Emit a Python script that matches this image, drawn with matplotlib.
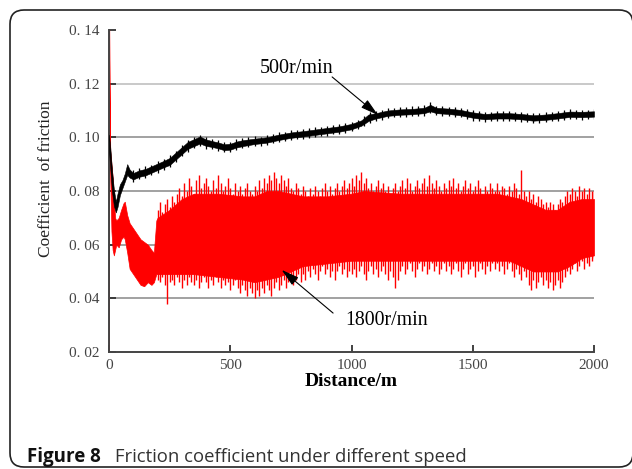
import matplotlib
matplotlib.use('Agg')
import matplotlib.pyplot as plt
from matplotlib.patches import FancyBboxPatch

# 1800r/min 曲线主体的上下包络 (距离 m, 摩擦系数)
dist_1800 = [0, 1, 5, 10, 15, 20, 25, 30, 40, 50, 60, 65, 75, 85, 100, 115, 130, 145,
             160, 175, 185, 195, 200, 250, 300, 350, 450, 550, 600, 650, 700, 800, 900,
             1000, 1050, 1200, 1600, 1650, 1700, 1750, 1800, 1850, 1900, 1950, 2000]
hi_1800 = [0.140, 0.140, 0.095, 0.090, 0.085, 0.078, 0.070, 0.069, 0.070, 0.073, 0.0755,
           0.076, 0.071, 0.068, 0.066, 0.064, 0.062, 0.061, 0.060, 0.058, 0.057, 0.069,
           0.070, 0.073, 0.077, 0.079, 0.079, 0.078, 0.078, 0.080, 0.080, 0.078, 0.078,
           0.079, 0.080, 0.079, 0.079, 0.078, 0.077, 0.075, 0.073, 0.073, 0.076, 0.077,
           0.077]
lo_1800 = [0.020, 0.120, 0.085, 0.065, 0.058, 0.056, 0.058, 0.060, 0.059, 0.062, 0.063,
           0.062, 0.057, 0.051, 0.049, 0.047, 0.045, 0.0445, 0.046, 0.045, 0.046, 0.049,
           0.049, 0.049, 0.049, 0.049, 0.048, 0.047, 0.046, 0.047, 0.048, 0.052, 0.053,
           0.054, 0.054, 0.054, 0.054, 0.054, 0.052, 0.050, 0.050, 0.050, 0.052, 0.055,
           0.056]

# 1800r/min 曲线的尖峰 (每 10 m 的最大值和最小值)
spike_x = list(range(200, 2001, 10))
spike_hi = [
    0.073, 0.076, 0.072, 0.075, 0.077, 0.074, 0.078, 0.076, 0.079, 0.081,
    0.078, 0.083, 0.080, 0.085, 0.082, 0.079, 0.084, 0.086, 0.081, 0.083,
    0.085, 0.082, 0.080, 0.084, 0.081, 0.086, 0.083, 0.080, 0.082, 0.085,
    0.081, 0.079, 0.083, 0.080, 0.082, 0.079, 0.081, 0.083, 0.080, 0.079,
    0.082, 0.080, 0.084, 0.081, 0.085, 0.083, 0.086, 0.084, 0.087, 0.085,
    0.083, 0.086, 0.084, 0.082, 0.085, 0.081, 0.080, 0.083, 0.081, 0.079,
    0.082, 0.080, 0.078, 0.081, 0.079, 0.082, 0.080, 0.078, 0.081, 0.083,
    0.080, 0.082, 0.079, 0.081, 0.083, 0.080, 0.082, 0.084, 0.081, 0.083,
    0.085, 0.082, 0.086, 0.084, 0.087, 0.083, 0.085, 0.081, 0.083, 0.080,
    0.082, 0.084, 0.081, 0.083, 0.080, 0.082, 0.079, 0.081, 0.083, 0.080,
    0.082, 0.084, 0.081, 0.085, 0.083, 0.080, 0.082, 0.084, 0.081, 0.083,
    0.085, 0.082, 0.086, 0.083, 0.081, 0.084, 0.082, 0.080, 0.083, 0.081,
    0.084, 0.082, 0.085, 0.081, 0.083, 0.080, 0.082, 0.084, 0.081, 0.083,
    0.080, 0.082, 0.084, 0.081, 0.079, 0.082, 0.080, 0.083, 0.081, 0.080,
    0.083, 0.080, 0.082, 0.081, 0.079, 0.082, 0.080, 0.083, 0.081, 0.079,
    0.088, 0.080, 0.078, 0.080, 0.077, 0.079, 0.076, 0.078, 0.077, 0.075,
    0.076, 0.074, 0.076, 0.075, 0.073, 0.075, 0.077, 0.076, 0.078, 0.080,
    0.079, 0.081, 0.080, 0.078, 0.082, 0.080, 0.081, 0.079, 0.081, 0.080,
    0.080]
spike_lo = [
    0.047, 0.046, 0.048, 0.045, 0.038, 0.046, 0.047, 0.045, 0.048, 0.046,
    0.044, 0.047, 0.045, 0.048, 0.046, 0.045, 0.047, 0.044, 0.046, 0.048,
    0.046, 0.044, 0.047, 0.045, 0.048, 0.046, 0.044, 0.047, 0.045, 0.046,
    0.043, 0.045, 0.047, 0.044, 0.042, 0.045, 0.043, 0.041, 0.044, 0.042,
    0.040, 0.043, 0.041, 0.044, 0.042, 0.045, 0.043, 0.041, 0.044, 0.046,
    0.043, 0.045, 0.047, 0.044, 0.046, 0.048, 0.045, 0.047, 0.049, 0.046,
    0.049, 0.047, 0.050, 0.048, 0.051, 0.049, 0.047, 0.050, 0.052, 0.049,
    0.051, 0.048, 0.050, 0.047, 0.050, 0.052, 0.049, 0.051, 0.048, 0.050,
    0.049, 0.051, 0.048, 0.050, 0.052, 0.049, 0.047, 0.050, 0.052, 0.049,
    0.051, 0.048, 0.050, 0.052, 0.049, 0.047, 0.050, 0.048, 0.044, 0.047,
    0.050, 0.052, 0.049, 0.051, 0.053, 0.050, 0.048, 0.051, 0.053, 0.050,
    0.052, 0.049, 0.051, 0.053, 0.050, 0.052, 0.049, 0.051, 0.053, 0.050,
    0.052, 0.049, 0.051, 0.053, 0.050, 0.048, 0.051, 0.053, 0.049, 0.051,
    0.052, 0.048, 0.050, 0.053, 0.051, 0.049, 0.052, 0.050, 0.053, 0.051,
    0.053, 0.050, 0.052, 0.049, 0.051, 0.053, 0.050, 0.048, 0.051, 0.049,
    0.047, 0.050, 0.048, 0.045, 0.043, 0.047, 0.044, 0.046, 0.048, 0.045,
    0.047, 0.044, 0.046, 0.043, 0.045, 0.047, 0.044, 0.046, 0.048, 0.050,
    0.049, 0.051, 0.053, 0.050, 0.052, 0.054, 0.051, 0.053, 0.052, 0.054,
    0.055]

# 500r/min 曲线的上下包络
dist_500 = [0, 5, 12, 20, 28, 35, 45, 55, 65, 75, 85, 100, 125, 150, 175, 200, 225, 250,
            275, 300, 325, 350, 375, 400, 425, 450, 475, 500, 525, 550, 600, 650, 700,
            750, 800, 850, 900, 950, 1000, 1040, 1070, 1100, 1150, 1200, 1250, 1300,
            1325, 1350, 1400, 1450, 1500, 1550, 1600, 1650, 1700, 1750, 1800, 1850,
            1900, 1950, 2000]
hi_500 = [0.101, 0.0965, 0.088, 0.0805, 0.076, 0.079, 0.0825, 0.084, 0.0865, 0.090,
          0.088, 0.0867, 0.0877, 0.0882, 0.0892, 0.0902, 0.0912, 0.0923, 0.0943, 0.0963,
          0.0983, 0.0993, 0.1003, 0.0992, 0.0986, 0.0981, 0.0974, 0.0976, 0.0984, 0.0989,
          0.0995, 0.1000, 0.1010, 0.1018, 0.1023, 0.1029, 0.1035, 0.1041, 0.1050, 0.1063,
          0.1085, 0.1090, 0.1100, 0.1104, 0.1106, 0.1110, 0.1121, 0.1110, 0.1107, 0.1102,
          0.1093, 0.1087, 0.1090, 0.1090, 0.1087, 0.1082, 0.1085, 0.1090, 0.1096, 0.1095,
          0.1097]
lo_500 = [0.095, 0.0885, 0.080, 0.0745, 0.072, 0.074, 0.0785, 0.081, 0.0835, 0.086,
          0.085, 0.0843, 0.0853, 0.0858, 0.0868, 0.0878, 0.0888, 0.0897, 0.0917, 0.0937,
          0.0957, 0.0967, 0.0977, 0.0968, 0.0964, 0.0959, 0.0952, 0.0954, 0.0962, 0.0967,
          0.0975, 0.0980, 0.0990, 0.0998, 0.1003, 0.1009, 0.1015, 0.1021, 0.1030, 0.1043,
          0.1061, 0.1070, 0.1080, 0.1084, 0.1086, 0.1090, 0.1097, 0.1090, 0.1087, 0.1082,
          0.1073, 0.1067, 0.1070, 0.1070, 0.1067, 0.1062, 0.1065, 0.1070, 0.1076, 0.1075,
          0.1077]

# 500r/min 曲线的毛刺 (每 25 m 的最大值和最小值)
noise_x = list(range(100, 2001, 25))
noise_hi = [0.0880, 0.0884, 0.0893, 0.0898, 0.0910, 0.0918, 0.0934, 0.0950, 0.0972,
            0.0990, 0.1003, 0.1010, 0.1000, 0.0995, 0.0989, 0.0984, 0.0983, 0.0993,
            0.0996, 0.1000, 0.1004, 0.1003, 0.1008, 0.1011, 0.1018, 0.1020, 0.1026,
            0.1027, 0.1031, 0.1033, 0.1037, 0.1039, 0.1044, 0.1045, 0.1050, 0.1052,
            0.1057, 0.1066, 0.1078, 0.1094, 0.1098, 0.1103, 0.1108, 0.1110, 0.1112,
            0.1113, 0.1115, 0.1116, 0.1119, 0.1130, 0.1118, 0.1116, 0.1114, 0.1113,
            0.1110, 0.1105, 0.1101, 0.1097, 0.1095, 0.1096, 0.1098, 0.1097, 0.1099,
            0.1095, 0.1094, 0.1092, 0.1090, 0.1091, 0.1093, 0.1095, 0.1098, 0.1100,
            0.1104, 0.1102, 0.1103, 0.1103, 0.1104]
noise_lo = [0.0835, 0.0845, 0.0850, 0.0861, 0.0868, 0.0880, 0.0889, 0.0907, 0.0930,
            0.0946, 0.0960, 0.0968, 0.0958, 0.0957, 0.0950, 0.0944, 0.0947, 0.0953,
            0.0960, 0.0963, 0.0968, 0.0969, 0.0972, 0.0977, 0.0982, 0.0986, 0.0989,
            0.0993, 0.0995, 0.0998, 0.1001, 0.1004, 0.1006, 0.1011, 0.1013, 0.1016,
            0.1022, 0.1030, 0.1041, 0.1055, 0.1062, 0.1066, 0.1071, 0.1074, 0.1075,
            0.1077, 0.1078, 0.1080, 0.1081, 0.1089, 0.1082, 0.1079, 0.1078, 0.1076,
            0.1074, 0.1069, 0.1062, 0.1061, 0.1058, 0.1060, 0.1061, 0.1062, 0.1061,
            0.1060, 0.1058, 0.1056, 0.1053, 0.1055, 0.1056, 0.1059, 0.1061, 0.1065,
            0.1067, 0.1067, 0.1066, 0.1068, 0.1069]

y_ticks = [0.02, 0.04, 0.06, 0.08, 0.10, 0.12, 0.14]
y_labels = ['0. 02', '0. 04', '0. 06', '0. 08', '0. 10', '0. 12', '0. 14']
x_ticks = [0, 500, 1000, 1500, 2000]

serif = ['Liberation Serif', 'DejaVu Serif']
plt.rcParams['font.family'] = serif

fig = plt.figure(figsize=(6.32, 4.69), dpi=100)

# 外框、纵轴标题与图注 (像素坐标)
bg = fig.add_axes([0, 0, 1, 1], zorder=0)
bg.set_xlim(0, 632)
bg.set_ylim(469, 0)
bg.axis('off')
bg.add_patch(FancyBboxPatch((10, 10), 623, 457, boxstyle='round,pad=0,rounding_size=14',
                            facecolor='white', edgecolor='#222222', linewidth=1.2))
bg.text(46, 179, 'Coefficient  of friction', fontsize=12.5, rotation=90,
        ha='center', va='center', color='#222222')
bg.text(27, 462, 'Figure 8', fontsize=13.5, fontweight='bold', family='Open Sans',
        color='#111111', va='baseline', ha='left')
bg.text(115, 462, 'Friction coefficient under different speed', fontsize=13.3,
        family='Open Sans', color='#333333', va='baseline', ha='left')

ax = fig.add_axes([0.1725, 0.2495, 0.7674, 0.6866], zorder=1)
ax.patch.set_alpha(0)

# 网格线
for yv in y_ticks[1:-1]:
    gc = '#bbbbbb' if yv > 0.11 else '#888888'
    ax.axhline(yv, color=gc, linewidth=1.1, zorder=1)

# 曲线
ax.fill_between(dist_1800, lo_1800, hi_1800, color='#ff0000', linewidth=0.5,
                edgecolor='#ff0000', zorder=2)
ax.vlines(spike_x, spike_lo, spike_hi, color='#ff0000', linewidth=1.0, zorder=2)
ax.fill_between(dist_500, lo_500, hi_500, color='black', linewidth=0.4,
                edgecolor='black', zorder=3)
ax.vlines(noise_x, noise_lo, noise_hi, color='black', linewidth=0.9, zorder=3)

# 标注
arrow = dict(arrowstyle='-|>,head_length=0.9,head_width=0.25', color='black',
             linewidth=0.8, shrinkA=0, shrinkB=0, mutation_scale=12)
ax.text(773, 0.1258, '500r/min', fontsize=14.5, ha='center', va='center')
ax.annotate('', xy=(1109, 0.1083), xytext=(920, 0.1225), arrowprops=arrow)
ax.text(1146, 0.0316, '1800r/min', fontsize=14.3, ha='center', va='center')
ax.annotate('', xy=(712, 0.0506), xytext=(924, 0.0345), arrowprops=arrow)

ax.set_xlim(0, 2000)
ax.set_ylim(0.02, 0.14)
ax.set_xticks(x_ticks)
ax.set_yticks(y_ticks)
ax.set_yticklabels(y_labels)
ax.tick_params(direction='in', length=5, width=1.3, colors='#333333', labelsize=11,
               labelcolor='#444444')
ax.tick_params(axis='x', pad=5)
ax.tick_params(axis='y', pad=7)

for side in ['top', 'right']:
    ax.spines[side].set_visible(False)
for side in ['left', 'bottom']:
    ax.spines[side].set_color('#444444')
    ax.spines[side].set_linewidth(1.4)

ax.set_xlabel('Distance/m', fontsize=14, fontweight='bold', labelpad=1)

fig.savefig('out.png', dpi=100)
